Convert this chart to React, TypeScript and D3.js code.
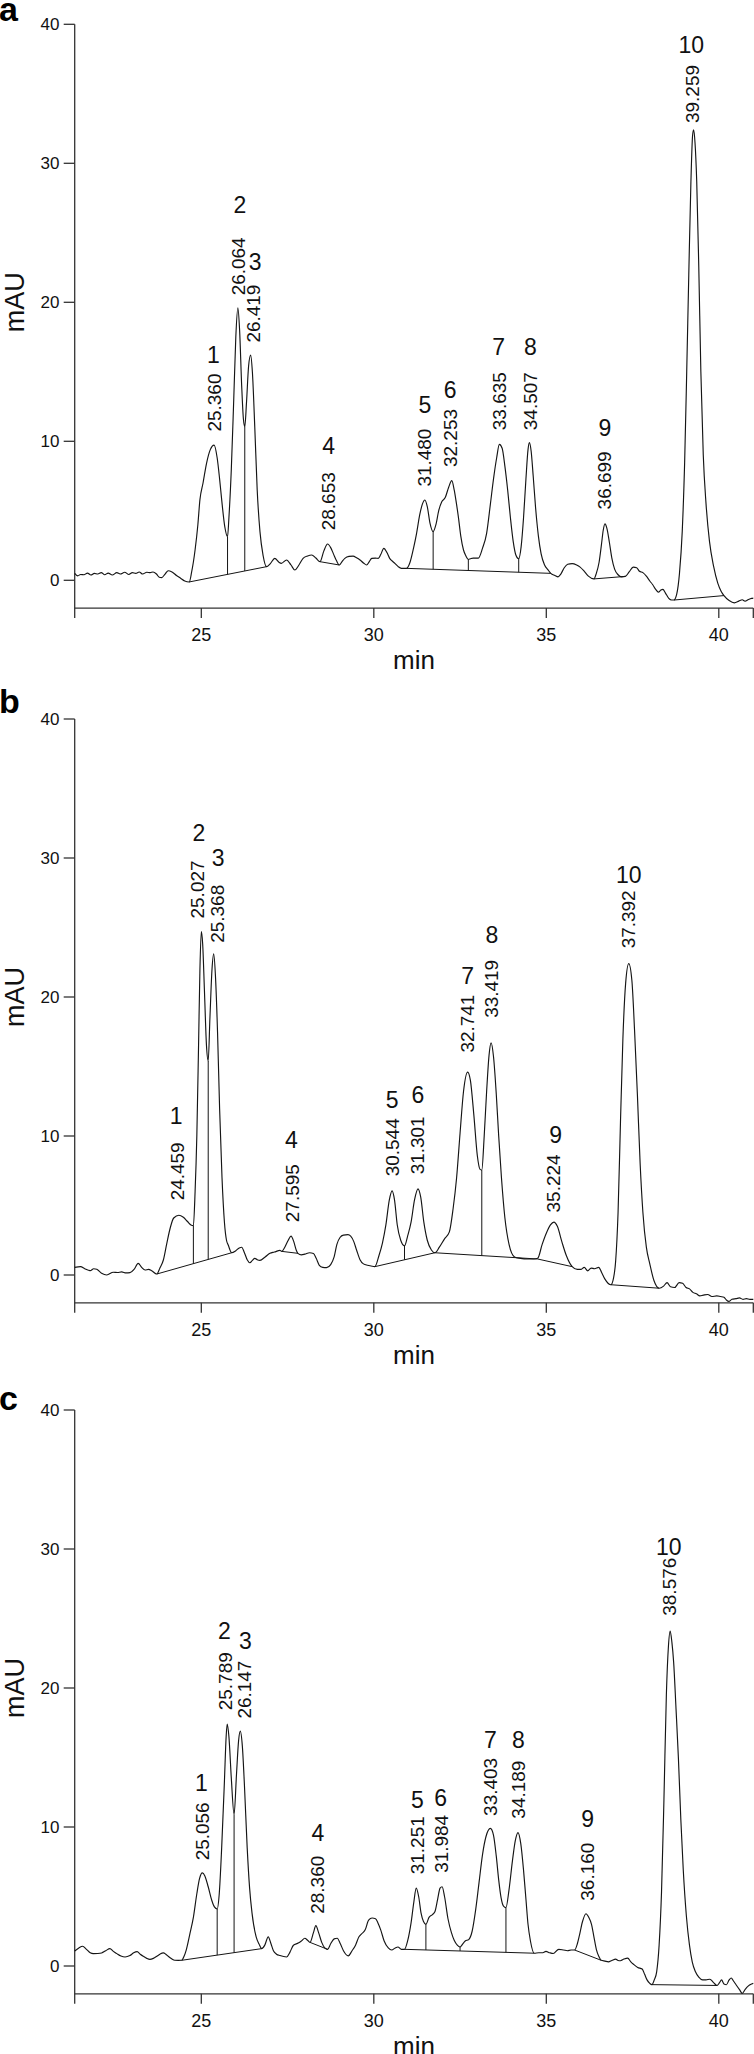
import React from 'react';
import * as d3 from 'd3';

type P = [number, number];

// ---------- axis ticks ----------
const xTicks = [25, 30, 35, 40];
const yTicks = [0, 10, 20, 30, 40];
const panelLetters = ['a', 'b', 'c'];
const peakNumbers = ['1', '2', '3', '4', '5', '6', '7', '8', '9', '10'];
const xTitle = 'min';
const yTitle = 'mAU';

// ---------- panel a ----------
const traceA: P[] = [
  [21.33,0.5],[21.42,0.32],[21.5,0.42],[21.6,0.4],[21.7,0.52],[21.8,0.38],[21.9,0.5],[22.0,0.45],[22.1,0.55],[22.2,0.4],
  [22.3,0.52],[22.42,0.38],[22.55,0.55],[22.65,0.45],[22.78,0.58],[22.9,0.42],[23.0,0.55],[23.1,0.5],[23.2,0.6],[23.3,0.45],
  [23.42,0.58],[23.52,0.55],[23.6,0.6],[23.7,0.45],[23.78,0.22],[23.85,0.19],[23.95,0.45],[24.04,0.69],[24.15,0.6],[24.28,0.35],
  [24.4,0.15],[24.52,-0.05],[24.65,-0.12],
  [24.72,0.6],[24.82,2.2],[24.9,4.0],[24.96,5.8],[25.05,7.0],[25.15,8.4],[25.26,9.4],[25.37,9.73],[25.46,8.8],[25.53,7.3],
  [25.59,5.8],[25.68,3.86],[25.76,3.14],
  [25.8,4.5],[25.87,8],[25.94,13],[26.0,17.5],[26.06,19.6],[26.11,18],[26.17,14],[26.22,11.6],[26.26,11.05],
  [26.31,12.8],[26.37,15.4],[26.43,16.2],[26.48,15.0],[26.55,11.0],[26.62,6.5],[26.7,3.5],[26.79,1.8],[26.89,0.98],
  [27.0,1.2],[27.13,1.58],[27.25,1.3],[27.32,1.22],[27.47,1.46],[27.6,1.1],[27.71,0.74],[27.83,1.1],[27.95,1.58],[28.08,1.75],
  [28.2,1.82],[28.32,1.6],[28.44,1.34],[28.55,2.1],[28.66,2.61],[28.75,2.35],[28.83,1.9],[28.92,1.4],[29.0,1.1],[29.08,1.35],
  [29.16,1.58],[29.28,1.72],[29.4,1.74],[29.5,1.62],[29.6,1.46],[29.7,1.25],[29.79,1.1],[29.87,1.35],[29.94,1.58],[30.05,1.6],
  [30.13,1.58],[30.2,1.85],[30.29,2.3],[30.38,2.0],[30.46,1.58],[30.55,1.35],[30.61,1.22],[30.7,1.0],[30.8,0.86],[30.95,0.86],
  [31.05,1.3],[31.15,2.3],[31.24,3.38],[31.33,4.7],[31.41,5.5],[31.48,5.78],[31.55,5.3],[31.63,4.1],[31.72,3.5],[31.8,4.0],
  [31.88,5.0],[31.97,5.65],[32.07,5.95],[32.17,6.7],[32.26,7.17],[32.33,6.5],[32.39,5.6],[32.45,4.58],[32.52,3.2],[32.6,2.18],
  [32.67,1.75],[32.74,1.5],[32.8,1.55],[32.88,1.6],[33.03,1.6],[33.15,2.3],[33.27,3.38],[33.38,5.5],[33.47,7.3],[33.56,8.8],
  [33.64,9.78],[33.72,9.5],[33.8,8.2],[33.88,6.5],[33.96,4.5],[34.04,2.8],[34.12,1.8],[34.2,1.55],[34.27,2.4],[34.34,4.5],
  [34.41,7.3],[34.47,9.4],[34.51,9.9],[34.56,9.3],[34.62,7.5],[34.69,5.2],[34.77,3.2],[34.85,1.9],[34.95,1.1],[35.05,0.75],
  [35.13,0.5],[35.25,0.35],[35.34,0.25],[35.42,0.45],[35.52,0.9],[35.62,1.15],[35.75,1.2],[35.88,1.1],[35.98,0.95],[36.1,0.65],
  [36.22,0.3],[36.38,0.1],
  [36.45,0.5],[36.53,1.3],[36.6,2.6],[36.65,3.6],[36.7,4.06],[36.76,3.7],[36.83,2.7],[36.9,1.6],[36.98,0.8],[37.08,0.4],
  [37.18,0.25],[37.29,0.28],[37.4,0.6],[37.52,0.95],[37.62,0.9],[37.7,0.65],[37.8,0.55],[37.9,0.3],[38.0,-0.05],[38.08,-0.3],
  [38.17,-0.65],[38.25,-0.85],[38.32,-0.7],[38.38,-0.65],[38.45,-0.9],[38.55,-1.3],[38.63,-1.42],[38.7,-1.42],
  [38.78,-1.0],[38.86,0.5],[38.94,3.5],[39.01,8.5],[39.07,15],[39.13,22],[39.19,28.5],[39.24,32.0],[39.27,32.4],[39.31,31.5],
  [39.36,28.7],[39.42,22.5],[39.48,15],[39.55,9.0],[39.63,5.5],[39.73,2.8],[39.85,1.0],[39.97,-0.2],[40.07,-0.8],[40.15,-1.1],
  [40.3,-1.45],[40.45,-1.62],[40.58,-1.5],[40.68,-1.4],[40.76,-1.5],[40.86,-1.38],[40.95,-1.3],[41.0,-1.28],
];
const baselinesA: P[][] = [
  [[24.65,-0.12],[26.89,0.98]],
  [[28.44,1.34],[29.0,1.1]],
  [[30.95,0.86],[35.13,0.5]],
  [[36.38,0.1],[37.29,0.28]],
  [[38.7,-1.42],[40.15,-1.1]],
];
const dropsA = [25.76, 26.26, 31.72, 32.74, 34.2];
const rtA = ['25.360','26.064','26.419','28.653','31.480','32.253','33.635','34.507','36.699','39.259'];
const labelTimeA = [25.37, 26.07, 26.51, 28.70, 31.48, 32.21, 33.63, 34.54, 36.70, 39.24];
const numTimeA = [25.35, 26.12, 26.56, 28.69, 31.48, 32.21, 33.62, 34.54, 36.70, 39.20];
const rtBaseA = [10.7, 20.5, 17.1, 3.6, 6.74, 8.15, 10.8, 10.8, 5.1, 32.9];
const numLevelA = [16.2, 27.0, 22.9, 9.7, 12.6, 13.7, 16.8, 16.8, 11.0, 38.5];

// ---------- panel b ----------
const traceB: P[] = [
  [21.33,0.55],[21.5,0.6],[21.62,0.45],[21.78,0.31],[21.88,0.45],[21.97,0.41],[22.11,0.12],[22.26,0.0],[22.45,0.2],[22.57,0.18],
  [22.69,0.22],[22.82,0.15],[22.93,0.17],[23.05,0.4],[23.17,0.84],[23.27,0.55],[23.37,0.36],[23.47,0.4],[23.56,0.31],[23.71,0.07],
  [23.8,0.5],[23.9,1.08],[24.0,2.28],[24.1,3.4],[24.2,4.1],[24.35,4.3],[24.48,4.15],[24.6,3.85],[24.7,3.6],[24.77,3.55],
  [24.82,6],[24.87,10],[24.92,16.5],[24.96,22],[25.0,24.7],[25.04,23.8],[25.09,20.5],[25.15,16.5],[25.2,15.4],[25.25,18.5],
  [25.31,22],[25.36,23.1],[25.41,21.5],[25.47,17.5],[25.53,12],[25.6,7.0],[25.67,3.8],[25.73,2.5],[25.78,2.16],[25.88,1.6],
  [26.0,1.75],[26.1,1.95],[26.17,2.0],[26.25,1.6],[26.33,1.1],[26.41,0.88],[26.48,1.05],[26.55,1.2],[26.62,1.1],[26.7,1.05],
  [26.85,1.3],[26.99,1.56],[27.12,1.65],[27.28,1.77],[27.33,1.7],
  [27.42,2.0],[27.52,2.5],[27.6,2.8],[27.68,2.4],[27.75,1.8],[27.8,1.56],[27.9,1.45],[28.0,1.5],[28.14,1.6],[28.25,1.55],
  [28.33,1.2],[28.42,0.7],[28.52,0.55],[28.63,0.53],[28.75,0.75],[28.85,1.3],[28.93,2.2],[29.02,2.7],[29.12,2.87],[29.25,2.9],
  [29.33,2.8],[29.42,2.4],[29.5,1.8],[29.6,1.1],[29.7,0.8],[29.82,0.7],[29.92,0.65],[30.03,0.6],
  [30.15,1.4],[30.25,2.3],[30.35,3.6],[30.45,5.4],[30.53,6.05],[30.6,5.4],[30.68,3.6],[30.78,2.5],[30.89,2.1],[30.98,2.8],
  [31.08,3.8],[31.18,5.4],[31.28,6.2],[31.36,5.6],[31.45,3.8],[31.55,2.5],[31.67,1.8],[31.77,1.6],[31.9,2.0],[32.05,2.6],
  [32.19,3.1],[32.3,4.8],[32.4,7.0],[32.5,10.2],[32.6,13.2],[32.72,14.6],[32.8,14.0],[32.9,11.5],[33.0,8.6],[33.08,7.6],
  [33.13,7.55],[33.2,10],[33.27,13.2],[33.34,15.8],[33.4,16.7],[33.47,15.7],[33.55,13],[33.62,10],[33.7,7.0],[33.8,4.1],
  [33.92,2.2],[34.08,1.3],[34.25,1.2],[34.45,1.15],[34.64,1.15],[34.75,1.2],
  [34.88,2.2],[35.0,3.0],[35.12,3.6],[35.22,3.8],[35.32,3.5],[35.45,2.4],[35.58,1.4],[35.75,0.6],[35.9,0.4],[36.0,0.4],
  [36.1,0.55],[36.2,0.3],[36.3,0.5],[36.4,0.45],[36.52,0.55],[36.6,0.2],[36.7,-0.3],[36.87,-0.7],
  [36.95,-0.2],[37.01,1.0],[37.08,4.5],[37.15,11.0],[37.22,17],[37.3,21],[37.39,22.4],[37.48,21.2],[37.56,17.5],[37.64,13],
  [37.72,8.0],[37.8,4.5],[37.9,2.0],[38.0,0.8],[38.12,-0.4],[38.27,-0.95],[38.4,-0.8],[38.5,-0.55],[38.6,-0.85],[38.72,-0.9],
  [38.85,-0.55],[38.95,-0.6],[39.05,-0.9],[39.15,-1.0],[39.25,-1.25],[39.35,-1.35],[39.45,-1.5],[39.55,-1.45],[39.68,-1.4],[39.8,-1.55],
  [39.94,-1.5],[40.05,-1.55],[40.15,-1.6],[40.22,-1.8],[40.29,-1.9],[40.38,-1.75],[40.5,-1.7],[40.6,-1.65],[40.7,-1.75],[40.8,-1.7],
  [40.9,-1.75],[41.0,-1.75],
];
const baselinesB: P[][] = [
  [[23.71,0.07],[25.88,1.6]],
  [[27.33,1.7],[27.8,1.56]],
  [[30.03,0.6],[31.77,1.6],[34.75,1.15],[35.75,0.6]],
  [[36.87,-0.7],[38.27,-0.95]],
];
const dropsB = [24.77, 25.2, 30.89, 33.13];
const rtB = ['24.459','25.027','25.368','27.595','30.544','31.301','32.741','33.419','35.224','37.392'];
const labelTimeB = [24.30, 24.90, 25.46, 27.65, 30.53, 31.28, 32.72, 33.41, 35.22, 37.39];
const numTimeB = [24.27, 24.93, 25.49, 27.61, 30.53, 31.28, 32.72, 33.42, 35.27, 37.39];
const rtBaseB = [5.37, 25.65, 23.9, 3.8, 7.1, 7.24, 16.0, 18.5, 4.5, 23.5];
const numLevelB = [11.45, 31.8, 30.0, 9.7, 12.6, 13.0, 21.5, 24.5, 10.1, 28.8];

// ---------- panel c ----------
const traceC: P[] = [
  [21.33,1.08],[21.45,1.3],[21.56,1.42],[21.67,1.2],[21.78,0.95],[21.87,0.89],[22.0,0.9],[22.11,0.94],[22.23,1.1],[22.35,1.25],
  [22.45,1.05],[22.55,0.89],[22.67,0.72],[22.79,0.65],[22.93,0.75],[23.04,0.95],[23.14,1.03],[23.23,0.85],[23.32,0.7],[23.42,0.55],
  [23.51,0.48],[23.61,0.55],[23.71,0.7],[23.8,0.85],[23.9,0.94],[23.97,0.85],[24.04,0.7],[24.14,0.52],[24.23,0.41],[24.33,0.4],
  [24.43,0.41],
  [24.5,0.7],[24.56,1.13],[24.67,2.33],[24.77,3.5],[24.87,5.2],[24.95,6.3],[25.03,6.7],[25.1,6.5],[25.2,5.7],[25.3,4.75],
  [25.38,4.25],[25.46,4.1],
  [25.52,5.2],[25.59,8.5],[25.67,13.3],[25.72,16.5],[25.75,17.4],[25.8,16.5],[25.87,13.5],[25.95,10.9],
  [26.02,13.8],[26.08,16.2],[26.13,16.9],[26.19,15.8],[26.25,13.0],[26.33,8.5],[26.4,5.6],[26.47,3.8],[26.59,2.1],[26.67,1.6],
  [26.75,1.25],[26.84,1.5],[26.94,2.1],[27.02,1.6],[27.09,1.1],[27.18,0.85],[27.28,0.75],[27.47,0.65],[27.57,1.0],[27.67,1.49],
  [27.81,1.65],[27.9,1.8],[28.0,2.0],[28.08,1.85],[28.15,1.7],
  [28.25,2.4],[28.32,2.9],[28.4,2.4],[28.49,1.7],[28.58,1.3],[28.66,1.2],[28.75,1.6],[28.85,1.95],[28.94,2.0],[29.03,1.6],
  [29.12,1.1],[29.26,0.73],[29.37,1.1],[29.47,1.5],[29.57,2.1],[29.64,2.3],[29.75,2.6],[29.85,3.3],[29.95,3.45],[30.05,3.4],
  [30.12,3.1],[30.2,2.6],[30.3,1.8],[30.42,1.3],[30.52,1.15],[30.62,1.3],[30.7,1.37],[30.8,1.2],[30.89,1.2],
  [30.98,1.8],[31.08,3.1],[31.16,4.6],[31.23,5.6],[31.3,5.0],[31.37,3.8],[31.44,3.2],[31.51,3.0],[31.6,3.5],[31.7,3.7],
  [31.77,3.9],[31.85,4.8],[31.92,5.6],[31.98,5.7],[32.05,5.0],[32.15,3.4],[32.25,2.4],[32.33,1.85],[32.42,1.5],[32.5,1.37],
  [32.58,1.6],[32.65,1.8],[32.75,1.9],[32.85,2.5],[32.95,4.0],[33.05,6.0],[33.15,8.0],[33.25,9.3],[33.38,9.9],[33.47,9.4],
  [33.55,7.9],[33.62,6.2],[33.69,4.9],[33.76,4.3],[33.83,4.2],[33.92,5.5],[34.02,7.6],[34.1,9.0],[34.18,9.6],[34.26,8.8],
  [34.34,6.9],[34.41,4.8],[34.47,3.0],[34.54,1.8],[34.65,0.92],[34.78,0.95],[34.9,0.95],[34.99,1.05],[35.1,0.95],[35.2,0.9],
  [35.36,1.2],[35.5,1.15],[35.61,1.1],[35.72,1.15],[35.82,1.15],
  [35.9,1.6],[35.96,2.2],[36.05,3.2],[36.15,3.76],[36.23,3.5],[36.31,3.0],[36.38,2.1],[36.45,1.2],[36.52,0.7],[36.59,0.41],
  [36.7,0.35],[36.8,0.3],[36.9,0.4],[37.01,0.5],[37.08,0.4],[37.15,0.38],[37.25,0.5],[37.36,0.57],[37.45,0.3],[37.54,0.1],
  [37.65,-0.1],[37.78,-0.22],[37.85,-0.6],[37.92,-1.0],[38.0,-1.25],[38.06,-1.34],
  [38.13,-1.0],[38.2,-0.4],[38.27,1.5],[38.34,5.35],[38.41,12],[38.48,19.5],[38.54,23.0],[38.59,24.1],[38.64,23.3],[38.69,21.9],
  [38.76,18.5],[38.83,14.9],[38.9,10.5],[38.97,6.9],[39.06,3.6],[39.15,1.5],[39.23,0.3],[39.32,-0.4],[39.42,-0.8],[39.53,-1.0],
  [39.63,-1.0],[39.74,-0.95],[39.85,-1.2],[39.95,-1.4],[40.02,-1.2],[40.08,-1.0],[40.15,-1.3],[40.22,-1.35],[40.3,-1.0],[40.36,-0.86],
  [40.43,-1.1],[40.5,-1.35],[40.6,-1.7],[40.68,-1.97],[40.76,-1.7],[40.85,-1.45],[40.95,-1.3],[41.0,-1.25],
];
const baselinesC: P[][] = [
  [[24.43,0.41],[26.75,1.25]],
  [[28.15,1.7],[28.66,1.2]],
  [[30.89,1.2],[34.65,0.92]],
  [[35.82,1.15],[36.59,0.41]],
  [[38.06,-1.34],[39.95,-1.4]],
];
const dropsC = [25.46, 25.95, 31.51, 32.5, 33.83];
const rtC = ['25.056','25.789','26.147','28.360','31.251','31.984','33.403','34.189','36.160','38.576'];
const labelTimeC = [25.03, 25.70, 26.26, 28.38, 31.26, 31.96, 33.38, 34.19, 36.20, 38.58];
const numTimeC = [25.0, 25.67, 26.28, 28.38, 31.26, 31.94, 33.38, 34.19, 36.2, 38.55];
const rtBaseC = [7.6, 18.4, 17.8, 3.76, 6.6, 6.7, 10.8, 10.6, 4.7, 25.2];
const numLevelC = [13.2, 24.1, 23.4, 9.6, 11.95, 12.1, 16.3, 16.3, 10.6, 30.2];

const panels = [
  { trace: traceA, baselines: baselinesA, drops: dropsA, rt: rtA, lt: labelTimeA, nt: numTimeA, rb: rtBaseA, nl: numLevelA },
  { trace: traceB, baselines: baselinesB, drops: dropsB, rt: rtB, lt: labelTimeB, nt: numTimeB, rb: rtBaseB, nl: numLevelB },
  { trace: traceC, baselines: baselinesC, drops: dropsC, rt: rtC, lt: labelTimeC, nt: numTimeC, rb: rtBaseC, nl: numLevelC },
];

const FONT = '"Liberation Sans", Arial, Helvetica, sans-serif';
const W = 754;
const H = 2054;
const panelTops = [24.3, 719, 1410];
const letterBaselines = [21, 713, 1410];
const plotLeft = 74.7;
const plotRight = 753.3;
const pxPerUnit = 13.9;

function interp(pts: P[], t: number): number | null {
  for (let i = 0; i < pts.length - 1; i++) {
    const [t0, v0] = pts[i];
    const [t1, v1] = pts[i + 1];
    if (t >= t0 && t <= t1) return v0 + ((v1 - v0) * (t - t0)) / (t1 - t0);
  }
  return null;
}

function Panel({ idx }: { idx: number }) {
  const p = panels[idx];
  const top = panelTops[idx];
  const x = d3.scaleLinear().domain([21.33, 41]).range([plotLeft, plotRight]);
  const y = d3.scaleLinear().domain([-2, 40]).range([top + 42 * pxPerUnit, top]);
  const line = d3.line<P>().x((d) => x(d[0])).y((d) => y(d[1])).curve(d3.curveMonotoneX);
  const straight = d3.line<P>().x((d) => x(d[0])).y((d) => y(d[1]));
  const axisY = y(-2);
  const stroke = '#151515';
  return (
    <g>
      <text x={-1} y={letterBaselines[idx]} fontFamily={FONT} fontWeight="bold" fontSize={34} fill="#000">
        {panelLetters[idx]}
      </text>
      {/* axes */}
      <line x1={plotLeft} x2={plotLeft} y1={y(40)} y2={axisY + 10} stroke="#333" strokeWidth={1.3} />
      <line x1={plotLeft} x2={plotRight} y1={axisY} y2={axisY} stroke="#333" strokeWidth={1.3} />
      <line x1={plotRight} x2={plotRight} y1={axisY} y2={axisY + 10} stroke="#333" strokeWidth={1.3} />
      {yTicks.map((v) => (
        <g key={'y' + v}>
          <line x1={plotLeft - 11} x2={plotLeft} y1={y(v)} y2={y(v)} stroke="#333" strokeWidth={1.3} />
          <text x={59.5} y={y(v)} dy="0.36em" textAnchor="end" fontFamily={FONT} fontSize={17} fill="#111">
            {v}
          </text>
        </g>
      ))}
      {xTicks.map((t) => (
        <g key={'x' + t}>
          <line x1={x(t)} x2={x(t)} y1={axisY} y2={axisY + 10} stroke="#333" strokeWidth={1.3} />
          <text x={x(t)} y={axisY + 33} textAnchor="middle" fontFamily={FONT} fontSize={18} fill="#111">
            {t}
          </text>
        </g>
      ))}
      <text x={(plotLeft + plotRight) / 2} y={axisY + 61} textAnchor="middle" fontFamily={FONT} fontSize={26} fill="#111">
        {xTitle}
      </text>
      <text
        transform={`translate(24,${y(20)}) rotate(-90)`}
        textAnchor="middle"
        fontFamily={FONT}
        fontSize={27}
        fill="#111"
      >
        {yTitle}
      </text>
      {/* integration baselines */}
      {p.baselines.map((b, i) => (
        <path key={'b' + i} d={straight(b) || ''} fill="none" stroke={stroke} strokeWidth={1} />
      ))}
      {p.drops.map((t, i) => {
        let vb = 0;
        for (const b of p.baselines) {
          const r = interp(b, t);
          if (r !== null) { vb = r; break; }
        }
        const vt = interp(p.trace, t) ?? vb;
        return <line key={'d' + i} x1={x(t)} x2={x(t)} y1={y(vb)} y2={y(vt)} stroke={stroke} strokeWidth={1} />;
      })}
      {/* trace */}
      <path d={line(p.trace) || ''} fill="none" stroke={stroke} strokeWidth={1.15} />
      {/* peak labels */}
      {p.rt.map((s, i) => (
        <g key={'l' + i}>
          <text
            transform={`translate(${x(p.lt[i])},${y(p.rb[i])}) rotate(-90)`}
            dy="0.36em"
            fontFamily={FONT}
            fontSize={18}
            textLength={58}
            lengthAdjust="spacingAndGlyphs"
            fill="#111"
          >
            {s}
          </text>
          <text x={x(p.nt[i])} y={y(p.nl[i])} dy="0.36em" textAnchor="middle" fontFamily={FONT} fontSize={23} fill="#111">
            {peakNumbers[i]}
          </text>
        </g>
      ))}
    </g>
  );
}

export default function App() {
  return (
    <svg
      width={W}
      height={H}
      viewBox={`0 0 ${W} ${H}`}
      style={{ position: 'absolute', left: 0, top: 0, background: '#fff' }}
    >
      <rect x={0} y={0} width={W} height={H} fill="#fff" />
      {[0, 1, 2].map((i) => (
        <Panel key={i} idx={i} />
      ))}
    </svg>
  );
}
